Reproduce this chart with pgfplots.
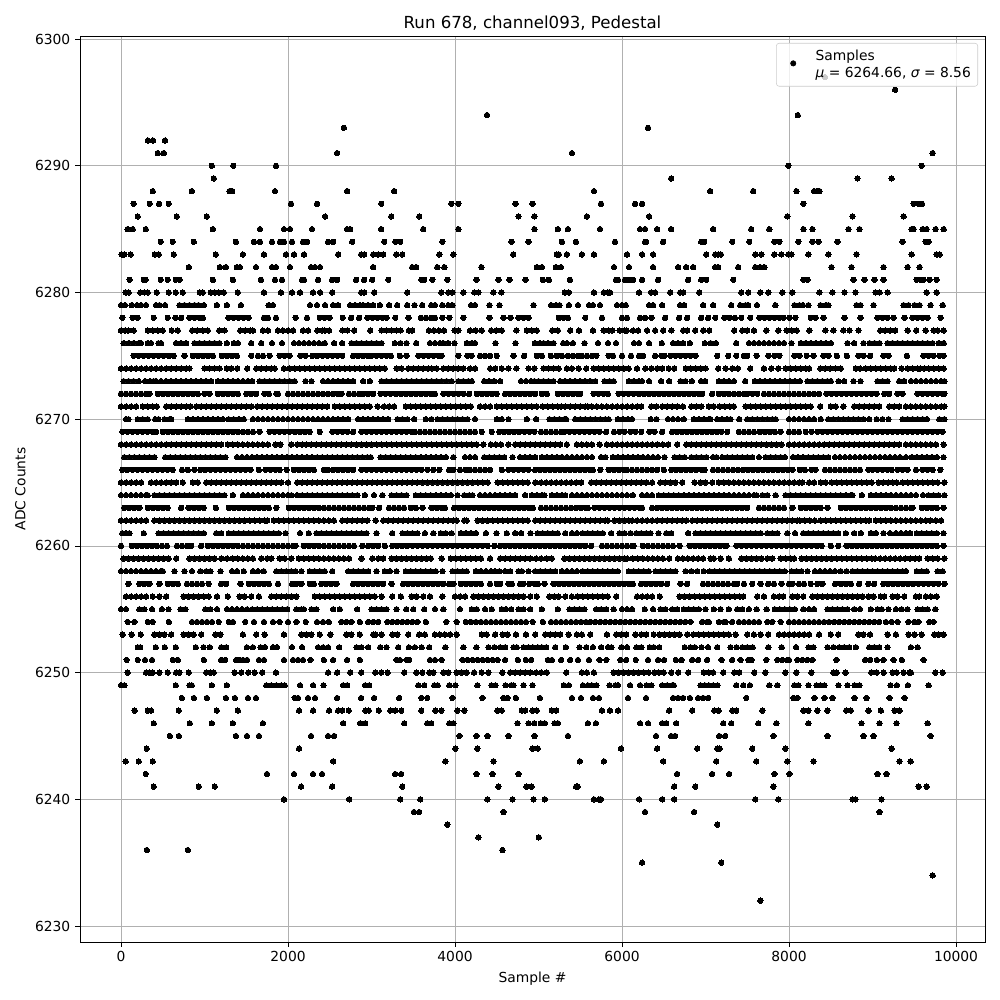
\documentclass[border=0pt]{standalone}
\usepackage{fontspec}
\setmainfont{DejaVu Sans}
\usepackage{pgfplots}
\pgfplotsset{compat=1.18}
\definecolor{gridgray}{HTML}{B0B0B0}
\gdef\allpts{}
\newcommand\R[2]{\gdef\rowpts{}\foreach \q in {#2}{\xdef\rowpts{\rowpts(\q,#1)}}\xdef\allpts{\allpts\rowpts}}
\R{6297}{8431}
\R{6296}{9270}
\R{6294}{4383,8104}
\R{6293}{2670,6311}
\R{6292}{323,383,527}
\R{6291}{440,512,2588,5400,9720}
\R{6290}{1088,1344,1856,7992,9588}
\R{6289}{1112,6588,8820,9228}
\R{6288}{380,848,1300,1332,1844,2708,3272,5664,7056,7572,8088,8300,8332,8364}
\R{6287}{152,344,456,572,2036,2348,3116,3956,4040,4724,4928,5748,6156,6240,8172,9492,9552,9592}
\R{6286}{200,668,1028,2444,3236,3572,4760,4950,5580,6324,7980,8760,9372}
\R{6285}{80,140,296,1100,1664,1952,2024,2288,2708,2744,3116,3620,4040,4950,5232,5352,5736,6216,6276,6420,6588,7092,7548,7764,8172,8280,8712,8844,9468,9492,9600,9648,9756,9852}
\R{6284}{476,620,872,1376,1592,1664,1808,1904,1952,2048,2180,2228,2480,2540,2768,3152,3284,3344,3848,4676,4880,5280,5448,5916,6276,6288,6492,6948,6984,7320,7524,7824,7884,8112,8280,8352,8580,9360,9636,9672}
\R{6283}{8,40,116,404,452,632,1136,1460,1712,1976,2072,2192,2600,2876,2912,3020,3080,3140,3296,3368,3812,3980,4696,5220,5244,5340,5520,5664,6060,6240,6372,7008,7116,7152,7184,7596,7668,7824,7908,7992,8028,8232,8472,8808,9468,9768,9804}
\R{6282}{812,1184,1256,1388,1424,1616,1808,1856,2024,2276,2324,2384,3020,3488,3536,3788,3872,4316,4980,5040,5208,5268,5904,6084,6372,6672,6768,6852,7116,7152,7392,7596,7656,7704,8508,8748,9132,9420,9564}
\R{6281}{104,272,296,476,560,656,704,1100,1340,1676,1844,1928,2168,2192,2360,2528,2588,2816,2912,3008,3200,3596,3632,3728,3908,4256,4520,4652,4844,5052,5124,5376,5928,5952,6036,6084,6132,6240,6432,6792,6948,7008,7332,8172,8220,8772,8904,9024,9132,9528,9576,9612,9684,9768}
\R{6280}{56,92,232,280,320,428,572,656,740,944,980,1076,1124,1172,1232,1400,1712,1916,2048,2144,2300,2384,2528,2876,2912,3032,3428,3836,3920,3968,4100,4232,4280,4460,4556,5316,5364,5664,5784,5832,5856,6204,6348,6396,6576,6696,6732,6924,7428,7512,7656,7752,7920,8040,8364,8520,8664,8796,9036,9084,9180,9648,9768}
\R{6279}{0,48,128,192,240,300,420,460,528,700,760,820,880,928,992,1148,1268,1436,1768,1820,2264,2348,2444,2540,2600,2744,2804,2864,2900,2960,3020,3100,3212,3308,3428,3516,3608,3716,3760,3848,3920,3968,4192,4240,4412,4532,4940,5152,5212,5252,5364,5472,5604,5652,5736,5940,6000,6044,6324,6372,6480,6696,6744,6972,7092,7308,7416,7480,7512,7616,7836,8064,8124,8164,8232,8376,8440,8472,8808,8856,9012,9372,9432,9504,9564,9696,9840}
\R{6278}{16,140,200,392,560,652,720,820,880,940,980,1288,1348,1408,1468,1528,1712,1760,1856,2092,2228,2380,2440,2500,2656,2756,2852,2952,3012,3072,3132,3180,3284,3444,3592,3652,3712,3760,3848,3932,4100,4412,4580,4664,4760,4820,4880,5244,5300,5352,5560,5760,6000,6060,6216,6276,6352,6516,6684,6780,6948,7032,7116,7224,7284,7352,7428,7536,7644,7704,7764,7824,7884,7932,8004,8076,8260,8320,8412,8664,8856,9060,9120,9180,9252,9384,9480,9540,9600,9660,9816}
\R{6277}{0,48,88,152,320,380,440,500,608,680,852,912,980,1040,1176,1240,1428,1488,1548,1580,1700,1760,1880,1940,2000,2060,2180,2240,2352,2412,2440,2492,2652,2712,2792,2984,3120,3180,3240,3300,3348,3448,3488,3688,3748,3808,3868,3996,4040,4180,4250,4320,4432,4492,4560,4736,4860,4920,4980,5164,5232,5380,5484,5652,5780,5840,5884,5972,6032,6056,6132,6192,6300,6396,6492,6592,6732,6780,6876,6972,7044,7344,7440,7500,7580,7728,7872,7972,8032,8092,8244,8436,8532,8652,8724,8832,9092,9152,9212,9272,9420,9524,9636,9732,9780,9852}
\R{6276}{32,92,152,212,240,320,360,448,480,660,720,780,880,940,1000,1060,1120,1180,1268,1352,1400,1560,1680,1808,1928,2072,2132,2192,2252,2312,2372,2440,2552,2648,2760,2820,2880,2940,3000,3060,3120,3280,3348,3420,3536,3700,3760,3820,3860,3920,3992,4140,4200,4240,4484,4724,4956,5016,5060,5116,5180,5296,5340,5412,5552,5712,5832,5928,6144,6204,6324,6476,6612,6672,6732,6812,6992,7060,7124,7368,7520,7580,7640,7700,7760,7820,7880,7940,8028,8140,8200,8260,8320,8380,8440,8500,8700,8780,8892,8964,9024,9084,9180,9240,9300,9360,9420,9480,9540,9600,9660,9720,9792,9852}
\R{6275}{152,212,272,332,392,452,512,572,632,760,860,920,980,1040,1100,1208,1268,1328,1388,1560,1640,1700,1780,1900,1960,2020,2150,2210,2290,2350,2410,2470,2530,2590,2650,2780,2840,2900,2960,3000,3060,3120,3180,3232,3340,3420,3560,3620,3680,3740,3800,3840,4040,4150,4200,4300,4360,4420,4500,4700,4828,4980,5040,5148,5220,5280,5352,5412,5472,5520,5580,5640,5692,5840,5892,6000,6108,6204,6252,6396,6472,6504,6580,6640,6700,6760,6820,6880,7140,7272,7368,7460,7500,7612,7752,7824,7884,8064,8124,8212,8292,8412,8472,8572,8692,8832,8892,8972,9132,9192,9412,9610,9670,9730,9800,9852}
\R{6274}{0,60,120,180,240,300,360,420,480,540,600,660,720,780,820,1000,1060,1120,1180,1268,1320,1392,1512,1620,1680,1740,1800,1840,1952,2020,2080,2140,2200,2260,2320,2380,2440,2500,2560,2620,2680,2740,2800,2860,2920,2980,3040,3100,3160,3300,3360,3440,3500,3560,3620,3680,3720,3780,3860,3920,3980,4040,4100,4180,4240,4420,4480,4560,4640,4736,4880,4950,5060,5120,5180,5240,5340,5400,5480,5572,5660,5720,5780,5840,5900,5960,6020,6080,6180,6280,6350,6420,6480,6560,6624,6764,6824,6884,6944,7000,7152,7240,7320,7388,7536,7700,7788,7872,7960,8020,8080,8140,8200,8240,8376,8436,8496,8556,8620,8800,8850,8920,8980,9040,9100,9160,9220,9260,9348,9420,9480,9540,9570,9620,9672,9732,9792,9852}
\R{6273}{32,92,152,212,290,350,390,420,480,540,600,660,720,780,840,900,960,1020,1080,1160,1220,1280,1340,1400,1460,1520,1570,1660,1720,1780,1840,1900,1960,2020,2080,2210,2280,2420,2480,2540,2600,2660,2720,2780,2900,2980,3120,3180,3240,3300,3360,3420,3480,3540,3600,3660,3720,3780,3840,3900,3960,4040,4100,4160,4200,4350,4410,4470,4540,4790,4850,4910,4950,5000,5060,5120,5180,5260,5320,5380,5440,5500,5560,5620,5680,5790,5850,5900,6080,6140,6200,6240,6324,6468,6564,6700,6760,6836,6948,6996,7160,7220,7280,7340,7476,7590,7650,7710,7770,7830,7890,7950,8010,8070,8130,8220,8280,8340,8400,8460,8500,8592,8660,8772,8856,9060,9120,9180,9320,9380,9460,9520,9580,9640,9700,9760,9820,9860}
\R{6272}{0,60,120,180,240,300,340,440,500,560,620,680,740,800,860,920,1000,1060,1160,1220,1280,1340,1400,1500,1560,1620,1720,1770,1860,1880,2000,2060,2120,2180,2240,2300,2360,2420,2480,2540,2600,2640,2730,2790,2850,2900,2960,3020,3110,3170,3230,3290,3350,3410,3470,3530,3590,3650,3710,3760,3860,3920,3980,4040,4100,4170,4260,4320,4380,4440,4500,4600,4660,4720,4780,4840,4900,4960,5040,5100,5230,5290,5350,5410,5470,5500,5660,5720,5780,5830,5960,6020,6080,6140,6200,6260,6320,6380,6440,6500,6560,6620,6680,6740,6800,6860,6920,6960,7080,7160,7220,7280,7340,7400,7460,7500,7560,7620,7700,7760,7820,7880,7940,8000,8060,8120,8180,8240,8300,8360,8450,8510,8570,8630,8690,8750,8810,8870,8930,8990,9050,9140,9200,9300,9360,9540,9600,9660,9720,9780,9840,9860}
\R{6271}{0,60,120,180,260,320,380,430,540,600,660,720,780,830,900,960,1020,1080,1140,1200,1260,1320,1380,1440,1500,1560,1630,1690,1750,1810,1870,1930,1990,2050,2110,2170,2230,2290,2350,2410,2470,2560,2620,2680,2740,2800,2860,2920,2980,3072,3150,3210,3270,3410,3470,3530,3590,3650,3710,3770,3830,3890,3950,4010,4070,4130,4190,4300,4360,4420,4500,4560,4620,4680,4740,4800,4860,4920,4980,5050,5110,5170,5230,5270,5320,5380,5440,5500,5560,5590,5640,5700,5760,5820,5880,5940,6000,6060,6120,6180,6230,6350,6410,6480,6540,6600,6660,6730,6830,6890,6950,7040,7100,7170,7230,7290,7340,7480,7540,7600,7660,7720,7780,7840,7900,7960,8020,8080,8140,8200,8260,8372,8500,8560,8650,8780,8840,8900,8960,9020,9080,9200,9260,9320,9400,9460,9520,9580,9640,9700,9760,9820,9860}
\R{6270}{60,90,200,260,320,410,450,520,580,600,800,860,920,980,1040,1100,1160,1220,1290,1350,1410,1470,1580,1640,1700,1760,1820,1880,1940,2000,2060,2120,2180,2240,2300,2360,2420,2480,2540,2600,2660,2720,2840,2900,2960,3020,3080,3140,3200,3310,3370,3430,3510,3650,3720,3790,3850,3910,3970,4030,4090,4150,4240,4500,4560,4640,4860,4972,5130,5190,5250,5310,5330,5440,5500,5560,5620,5680,5740,5800,5840,5950,6010,6070,6120,6344,6412,6550,6610,6670,6740,6860,6920,6980,7040,7060,7140,7200,7260,7300,7404,7500,7560,7620,7680,7740,7800,7840,8000,8060,8120,8180,8240,8300,8380,8470,8530,8590,8650,8710,8770,8830,8890,8960,9050,9120,9192,9360,9420,9480,9540,9600,9650,9800,9860}
\R{6269}{16,76,136,196,256,316,376,420,500,560,620,680,740,800,860,920,980,1040,1100,1160,1220,1280,1340,1400,1460,1520,1580,1660,1780,1840,1900,1960,2020,2080,2140,2200,2260,2380,2532,2592,2652,2712,2780,2880,2940,3000,3060,3120,3180,3240,3300,3360,3420,3480,3520,3580,3640,3700,3760,3820,3880,3940,4000,4060,4120,4180,4240,4320,4440,4530,4590,4650,4710,4770,4830,4890,4950,5030,5090,5150,5210,5270,5310,5370,5430,5490,5550,5610,5670,5730,5810,5904,5970,6030,6100,6160,6230,6330,6390,6480,6600,6660,6720,6780,6840,6900,6960,7020,7080,7140,7190,7260,7400,7460,7520,7580,7650,7710,7770,7830,7900,8000,8060,8120,8200,8270,8340,8400,8460,8520,8580,8640,8700,8760,8820,8880,8940,9000,9060,9120,9180,9240,9300,9360,9420,9480,9540,9600,9660,9720,9780,9840}
\R{6268}{0,60,120,180,240,300,360,420,480,540,600,660,720,780,840,900,960,1020,1080,1140,1200,1280,1340,1400,1460,1520,1580,1640,1700,1760,1850,1910,2040,2110,2170,2220,2280,2340,2400,2460,2520,2580,2640,2700,2760,2820,2880,2940,3000,3060,3120,3180,3240,3300,3360,3420,3480,3540,3600,3660,3720,3780,3840,3900,3960,4020,4080,4140,4200,4260,4340,4430,4490,4550,4640,4720,4780,4840,4900,4960,5020,5080,5140,5200,5260,5340,5460,5520,5580,5640,5732,5820,5880,5940,6000,6060,6120,6180,6240,6300,6360,6420,6490,6552,6660,6770,6830,6890,6950,7010,7070,7130,7190,7250,7310,7370,7430,7490,7550,7610,7670,7730,7790,7850,7910,8000,8060,8120,8180,8240,8300,8360,8420,8480,8540,8600,8660,8720,8780,8840,8900,8960,9020,9080,9140,9200,9260,9320,9400,9460,9520,9580,9640,9700,9760,9850}
\R{6267}{40,100,160,220,280,340,400,530,590,650,710,770,830,890,950,1010,1070,1130,1190,1250,1390,1450,1510,1570,1630,1690,1750,1810,1870,1930,1990,2050,2110,2170,2230,2290,2350,2410,2470,2530,2590,2650,2710,2770,2830,2890,2950,2990,3110,3170,3230,3290,3350,3410,3470,3530,3590,3650,3710,3770,3830,3890,3980,4120,4180,4240,4350,4410,4470,4530,4590,4690,4780,4840,4900,4960,5040,5100,5160,5220,5280,5340,5400,5460,5520,5580,5640,5750,5800,5890,5950,6010,6070,6130,6190,6250,6310,6370,6430,6510,6630,6690,6750,6830,6890,6950,7010,7090,7130,7200,7260,7320,7380,7440,7500,7560,7640,7720,7780,7840,7900,7950,8050,8110,8170,8230,8290,8350,8410,8470,8550,8610,8670,8730,8790,8850,8910,8970,9030,9090,9150,9210,9270,9330,9400,9470,9530,9590,9650,9710,9770,9850}
\R{6266}{16,76,136,196,256,316,376,436,496,556,620,730,800,880,950,1010,1070,1130,1190,1250,1310,1370,1430,1490,1550,1650,1730,1790,1850,1900,1984,2070,2130,2190,2250,2310,2430,2480,2540,2600,2660,2720,2780,2880,2940,3000,3060,3120,3180,3240,3300,3360,3420,3480,3540,3600,3670,3740,3812,3930,3980,4060,4130,4180,4240,4300,4360,4420,4560,4640,4700,4760,4820,4880,4960,5020,5080,5140,5200,5260,5320,5380,5440,5500,5560,5610,5650,5740,5840,5900,5960,6020,6060,6120,6180,6240,6300,6360,6420,6500,6590,6650,6710,6770,6830,6890,6950,6990,7090,7150,7210,7270,7330,7390,7450,7510,7570,7630,7690,7750,7810,7870,7930,7990,8040,8130,8190,8270,8316,8430,8490,8550,8610,8670,8730,8790,8850,8950,9000,9060,9120,9180,9230,9300,9360,9420,9520,9600,9660,9720,9812}
\R{6265}{0,60,120,180,240,360,420,480,540,600,660,740,860,920,1020,1080,1140,1200,1260,1320,1380,1440,1500,1560,1620,1680,1740,1800,1860,1920,2000,2110,2170,2230,2290,2350,2410,2470,2530,2590,2650,2710,2770,2830,2890,2950,3010,3070,3130,3190,3250,3310,3370,3430,3490,3550,3610,3670,3730,3790,3850,3910,3970,4030,4090,4150,4210,4270,4330,4390,4510,4570,4630,4690,4750,4810,4870,4960,5030,5090,5150,5210,5270,5330,5390,5450,5510,5630,5690,5750,5810,5870,5930,5990,6050,6110,6170,6230,6290,6360,6460,6520,6580,6640,6720,6870,6940,7000,7080,7160,7220,7280,7340,7400,7460,7520,7580,7640,7700,7760,7820,7880,7940,8000,8060,8120,8160,8240,8300,8380,8440,8510,8570,8630,8690,8750,8810,8870,8930,8990,9072,9130,9190,9240,9292,9360,9420,9480,9540,9600,9660,9720,9780,9860}
\R{6264}{0,60,120,180,240,300,320,400,460,520,580,640,700,760,820,880,940,1000,1060,1120,1180,1240,1340,1460,1520,1580,1640,1700,1760,1820,1880,1940,2000,2040,2110,2170,2230,2290,2350,2410,2470,2530,2590,2650,2710,2770,2830,2920,3030,3130,3240,3300,3360,3420,3530,3590,3650,3710,3770,3830,3890,3950,4030,4110,4170,4210,4300,4360,4420,4480,4540,4600,4660,4720,4840,4920,4980,5040,5070,5160,5220,5280,5320,5400,5460,5520,5580,5640,5700,5760,5820,5880,5940,6000,6060,6130,6240,6300,6360,6440,6500,6560,6620,6680,6740,6800,6860,6920,6980,7040,7100,7160,7220,7280,7340,7400,7460,7520,7580,7610,7680,7740,7840,7960,8020,8080,8140,8200,8260,8320,8380,8440,8500,8560,8620,8680,8740,8760,8872,8980,9040,9100,9160,9220,9280,9340,9400,9460,9520,9604,9670,9730,9790,9860}
\R{6263}{40,100,160,220,320,380,440,500,560,720,810,870,930,990,1136,1290,1350,1410,1470,1530,1590,1650,1710,1770,1860,2010,2070,2130,2190,2250,2310,2370,2430,2490,2550,2610,2670,2730,2790,2850,2910,2970,3010,3092,3210,3270,3330,3390,3470,3530,3610,3720,3780,3840,3880,3990,4050,4110,4170,4230,4290,4350,4410,4470,4530,4590,4650,4710,4770,4830,4890,4932,5030,5090,5150,5210,5270,5330,5390,5450,5510,5570,5590,5670,5730,5790,5850,5910,5970,6030,6090,6150,6210,6240,6360,6420,6480,6540,6600,6660,6720,6780,6840,6900,6960,7020,7080,7140,7200,7260,7320,7380,7440,7500,7640,7700,7760,7820,7880,7940,8040,8140,8200,8260,8320,8380,8460,8620,8680,8740,8800,8860,8920,8980,9040,9100,9160,9220,9280,9340,9400,9460,9480,9590,9650,9710,9770,9850}
\R{6262}{0,60,120,180,240,300,400,460,520,580,640,700,760,820,880,940,1000,1060,1120,1180,1240,1300,1360,1420,1480,1540,1600,1660,1720,1750,1830,1890,1950,2010,2070,2130,2190,2250,2310,2370,2430,2490,2550,2650,2710,2770,2830,2890,2950,3050,3140,3200,3260,3320,3380,3440,3500,3560,3620,3680,3740,3800,3860,3920,3980,4020,4110,4140,4270,4330,4390,4450,4510,4570,4630,4690,4750,4810,4870,4960,5020,5080,5140,5200,5260,5320,5380,5440,5500,5560,5620,5680,5740,5800,5830,5910,5970,6030,6080,6120,6180,6240,6300,6360,6420,6480,6540,6600,6660,6720,6770,6840,6900,6960,7020,7080,7140,7200,7260,7320,7380,7440,7500,7560,7620,7680,7740,7800,7860,7920,7980,8040,8100,8130,8190,8250,8310,8380,8440,8500,8560,8620,8680,8740,8800,8860,8920,8960,9040,9100,9160,9220,9280,9340,9400,9460,9520,9580,9640,9690,9760,9820}
\R{6261}{16,60,100,272,450,510,570,630,690,750,810,870,930,992,1140,1200,1290,1350,1410,1470,1530,1590,1650,1710,1770,1830,1890,1970,2144,2248,2340,2400,2460,2520,2580,2640,2700,2760,2820,2880,2940,3060,3248,3370,3430,3490,3550,3640,3740,3830,3890,3960,4070,4130,4190,4250,4370,4496,4620,4720,4792,4904,4990,5050,5110,5170,5230,5320,5400,5460,5530,5590,5650,5710,5770,5870,5970,6030,6100,6170,6230,6290,6340,6436,6530,6590,6792,6880,6940,7000,7060,7120,7180,7240,7300,7360,7420,7480,7540,7600,7660,7740,7800,7860,7980,8072,8170,8230,8290,8350,8410,8470,8530,8590,8680,8780,8860,8980,9040,9130,9210,9280,9340,9400,9450,9530,9590,9650,9710,9770,9850}
\R{6260}{0,130,190,250,310,370,430,490,550,670,730,790,840,960,1040,1100,1160,1220,1280,1340,1400,1460,1520,1580,1640,1700,1760,1820,1880,1940,2000,2060,2090,2190,2250,2310,2370,2430,2490,2550,2610,2670,2730,2790,2890,2960,3020,3080,3160,3250,3310,3370,3430,3490,3550,3610,3670,3730,3790,3850,3910,3970,4030,4090,4150,4210,4270,4330,4390,4470,4540,4600,4660,4720,4780,4840,4900,4960,5020,5080,5140,5200,5260,5320,5380,5440,5500,5560,5630,5760,5820,5880,5940,6000,6060,6120,6140,6250,6310,6370,6430,6490,6550,6610,6690,6810,6870,6930,6990,7050,7110,7170,7230,7250,7370,7430,7490,7550,7610,7670,7730,7790,7850,7910,7970,8030,8090,8150,8210,8270,8330,8390,8500,8590,8690,8750,8810,8870,8930,8990,9050,9110,9170,9230,9290,9350,9410,9470,9530,9590,9650,9710,9770,9850}
\R{6259}{30,90,150,210,270,330,390,450,510,570,660,820,880,940,1000,1060,1120,1200,1270,1340,1400,1460,1520,1580,1680,1750,1800,1900,1960,2040,2130,2190,2250,2310,2370,2430,2490,2550,2610,2670,2730,2880,3010,3080,3140,3240,3300,3360,3420,3480,3540,3600,3660,3710,3840,3950,4010,4070,4130,4190,4250,4310,4420,4540,4600,4660,4720,4780,4840,4900,4970,5030,5100,5160,5310,5370,5430,5490,5550,5610,5670,5730,5790,5850,5910,5970,6030,6060,6130,6190,6250,6310,6370,6430,6490,6564,6670,6730,6790,6850,6910,6970,7060,7100,7180,7280,7430,7490,7550,7610,7670,7740,7800,7900,7960,8020,8060,8150,8210,8270,8330,8390,8450,8510,8570,8630,8690,8750,8810,8870,8930,8990,9030,9090,9150,9210,9270,9330,9390,9450,9510,9560,9660,9720,9780,9860}
\R{6258}{0,60,120,180,240,300,360,420,480,500,640,760,850,950,1020,1070,1192,1330,1390,1470,1580,1640,1710,1860,1920,1980,2040,2090,2160,2260,2320,2380,2440,2530,2720,2780,2840,2900,2960,3060,3160,3220,3300,3410,3470,3530,3590,3650,3710,3770,3850,3970,4030,4090,4140,4250,4310,4370,4430,4480,4530,4600,4660,4760,4800,4880,4960,5020,5080,5140,5200,5280,5340,5400,5460,5530,5590,5650,5710,5770,5830,5890,5950,6080,6140,6200,6260,6320,6400,6460,6520,6580,6640,6760,6828,6900,6980,7050,7110,7170,7230,7290,7350,7410,7470,7530,7590,7650,7710,7770,7830,7890,7950,8030,8090,8150,8220,8310,8370,8430,8490,8550,8620,8690,8760,8820,8880,8940,9000,9060,9120,9180,9240,9300,9360,9400,9530,9590,9650,9780,9840}
\R{6257}{88,220,280,340,460,560,620,680,790,850,910,970,1050,1200,1260,1432,1530,1590,1650,1710,1770,1880,2050,2100,2160,2260,2310,2400,2460,2520,2580,2780,2840,2900,2960,3020,3080,3140,3240,3380,3440,3500,3560,3620,3680,3740,3800,3860,3930,3980,4070,4130,4190,4250,4310,4420,4500,4540,4640,4680,4780,4820,4890,4952,4992,5072,5180,5240,5300,5360,5420,5480,5540,5600,5660,5720,5780,5840,5900,5960,6020,6080,6130,6230,6290,6350,6410,6470,6540,6700,6780,6970,7030,7090,7150,7210,7270,7340,7380,7460,7560,7660,7750,7820,7910,8000,8040,8120,8180,8260,8340,8400,8552,8620,8680,8740,8840,8950,9020,9130,9190,9250,9310,9370,9430,9490,9550,9610,9670,9730,9790,9860}
\R{6256}{60,120,180,240,300,380,460,540,750,810,870,930,990,1050,1150,1280,1420,1480,1560,1652,1800,1860,1920,1980,2040,2100,2320,2380,2440,2500,2560,2620,2680,2740,2800,2860,2920,2980,3040,3120,3248,3352,3480,3540,3620,3700,3848,4000,4060,4120,4220,4280,4340,4400,4460,4520,4580,4640,4700,4760,4820,4900,4980,5130,5190,5240,5320,5400,5470,5530,5590,5650,5710,5770,5830,5930,6180,6240,6300,6360,6452,6690,6750,6810,6870,6930,6990,7050,7110,7170,7230,7290,7350,7410,7450,7620,7700,7820,7880,7930,8040,8100,8170,8280,8340,8400,8460,8520,8580,8640,8700,8760,8820,8880,8950,9012,9100,9140,9240,9300,9380,9520,9560,9640,9700,9770}
\R{6255}{0,60,220,280,372,490,570,712,772,1010,1070,1150,1270,1330,1390,1450,1510,1570,1630,1690,1750,1810,1870,1930,1990,2100,2160,2190,2280,2340,2540,2620,2828,3000,3060,3120,3180,3300,3416,3500,3632,3760,3860,4060,4200,4260,4360,4440,4560,4610,4672,4760,4820,4900,5040,5232,5370,5430,5490,5550,5690,5750,5810,5900,6000,6060,6120,6272,6372,6460,6520,6600,6660,6740,6800,6860,6920,7000,7100,7180,7280,7380,7440,7520,7612,7732,7830,7890,7950,8010,8070,8170,8240,8300,8460,8520,8580,8640,8700,8780,8850,8980,9060,9110,9190,9280,9350,9420,9540,9600,9660,9752}
\R{6254}{80,160,320,380,572,850,910,970,1030,1090,1170,1290,1340,1488,1592,1712,1820,1900,2000,2100,2212,2348,2420,2488,2640,2700,2760,2860,2960,3020,3080,3190,3250,3310,3370,3430,3490,3550,3650,3896,4020,4130,4190,4250,4310,4370,4430,4490,4550,4610,4670,4730,4790,4850,4930,5052,5150,5210,5270,5330,5390,5450,5510,5570,5620,5680,5740,5800,5860,5920,5980,6040,6100,6160,6220,6280,6340,6400,6460,6520,6580,6640,6700,6760,6820,6960,7020,7040,7160,7220,7240,7320,7400,7460,7520,7580,7640,7740,7800,7900,8000,8060,8120,8180,8240,8300,8360,8420,8480,8540,8600,8660,8720,8780,8840,8900,8960,9020,9080,9160,9230,9300,9430,9500,9550,9680,9730}
\R{6253}{20,128,236,400,460,520,600,750,810,870,960,1130,1190,1460,1620,1720,1952,2160,2220,2280,2380,2508,2700,2760,2860,3020,3050,3120,3250,3310,3440,3570,3640,3760,3820,3880,3940,4020,4320,4380,4480,4570,4630,4730,4850,4960,5080,5140,5200,5260,5360,5460,5520,5620,5820,5930,5990,6050,6160,6230,6290,6380,6450,6510,6570,6630,6690,6780,6852,6920,6980,7040,7100,7160,7220,7280,7360,7500,7580,7660,7750,7880,7940,8000,8060,8120,8180,8240,8360,8500,8590,8830,8890,8970,9180,9280,9432,9504,9588,9740,9790,9852}
\R{6252}{200,230,416,524,656,896,988,1064,1200,1260,1508,1580,1672,1724,1820,1868,2048,2168,2360,2420,2480,2612,2820,2880,2960,3104,3180,3320,3448,3520,3600,3692,3884,4100,4256,4400,4470,4540,4600,4700,4740,4820,4880,4932,4992,5040,5092,5200,5328,5492,5572,5652,5750,5832,5872,5992,6060,6172,6232,6332,6380,6444,6752,6820,6872,6952,7030,7140,7300,7370,7440,7500,7564,7752,7912,8084,8232,8292,8460,8530,8600,8660,8720,8800,8960,9020,9080,9180,9460,9540}
\R{6251}{68,200,288,372,620,680,992,1200,1248,1380,1420,1460,1510,1652,1712,1952,2060,2120,2180,2268,2428,2540,2708,2860,3300,3340,3420,3452,3700,3760,3840,4090,4150,4210,4270,4330,4390,4450,4510,4600,4752,4848,4912,5112,5160,5272,5380,5472,5604,5732,5812,5980,6050,6164,6312,6432,6504,6644,6712,6840,6912,7020,7192,7320,7420,7512,7552,7728,7860,7920,7980,8000,8100,8160,8220,8280,8568,8912,8972,9052,9130,9252,9350,9612}
\R{6250}{80,300,340,380,460,560,660,700,812,1020,1070,1112,1360,1440,1524,1600,1690,1856,2480,2588,2744,2876,3044,3116,3192,3392,3536,3608,3692,3740,3860,3920,4020,4080,4140,4228,4320,4400,4568,4660,4720,4780,4840,4900,4970,5030,5100,5332,5520,5580,5664,5900,5960,6020,6080,6140,6200,6260,6320,6390,6440,6500,6590,6672,6792,6980,7040,7090,7212,7344,7404,7584,7716,7956,8088,8268,8530,8570,8676,8984,9052,9132,9240,9290,9372,9440,9460,9752,9840}
\R{6249}{0,40,656,820,848,1088,1268,1740,1800,1860,1920,1960,2144,2300,2424,2660,2708,2924,2972,3560,3632,3752,3792,3932,4004,4268,4436,4484,4604,4672,4700,4820,4928,5304,5364,5532,5592,5640,5692,5852,5920,5952,6096,6216,6292,6352,6480,6540,6600,6620,6940,6992,7040,7092,7144,7368,7452,7532,7764,7860,8064,8112,8232,8328,8376,8424,8592,8700,8784,8844,9216,9292,9424,9672}
\R{6248}{728,872,1028,1256,1364,1520,1616,2080,2120,2240,2324,2588,2876,3032,3332,3596,3668,3968,4328,4580,4630,4728,5016,5400,5508,5652,5724,6072,6288,6612,6672,6732,6812,6912,6972,7032,7488,8052,8100,8304,8424,8520,8784,8928,9204,9384}
\R{6247}{164,320,360,692,1148,1400,2132,2300,2492,2600,2648,2728,2928,2968,3088,3224,3284,3356,3596,3764,3836,4028,4112,4508,4560,4800,4840,4928,4980,5160,5212,5760,5856,5952,6564,6840,7104,7156,7320,7368,7680,8172,8232,8340,8460,8684,8740,8952,9100,9264,9324}
\R{6246}{392,824,1088,1340,1700,2660,2864,2924,3392,3668,3716,3932,3980,4748,4880,4948,5028,5076,5192,5232,5592,5688,6216,6312,6480,6528,6648,7212,7308,7632,7848,8232,8868,9084,9288,9660}
\R{6245}{584,692,1376,1508,1652,2276,2480,2552,4052,4256,4388,4640,4952,5352,6408,6588,6636,7164,7236,7812,8460,8892,9012,9696}
\R{6244}{308,2132,4004,4268,4928,4992,5988,6420,6900,7140,7170,7560,7956,9228}
\R{6243}{56,212,380,2540,3884,4460,5496,5784,6492,7128,7608,7980,8292,9324,9456}
\R{6242}{296,1748,2072,2300,2408,3284,3356,4256,4448,4760,6660,7080,7284,7824,8004,9060,9168}
\R{6241}{392,932,1124,2156,2528,3368,4520,4856,4916,5450,5470,6624,6876,7812,9552,9648}
\R{6240}{1952,2732,3344,3584,4388,4688,4940,5076,5664,5724,5748,6204,6480,6624,7596,7872,8760,8796,9108}
\R{6239}{3508,3572,4580,6276,6864,9084}
\R{6238}{3908,7140}
\R{6237}{4280,5004}
\R{6236}{308,800,4568}
\R{6235}{6240,7188}
\R{6234}{9720}
\R{6232}{7656}
\begin{document}
\begin{tikzpicture}
\path[use as bounding box] (-0.8in,-0.58in) rectangle (9.2in,9.42in);
\begin{axis}[
  at={(0,0)},anchor=south west,
  scale only axis,width=9.05in,height=9.06in,
  xmin=-491,xmax=10347,ymin=6228.74,ymax=6300.24,
  xtick={0,2000,4000,6000,8000,10000},
  ytick={6230,6240,6250,6260,6270,6280,6290,6300},
  scaled x ticks=false,scaled y ticks=false,
  /pgf/number format/assume math mode=true,
  /pgf/number format/.cd,1000 sep={},fixed,/pgfplots/.cd,
  tick align=outside,tick pos=left,
  major tick length=3.5pt,
  every tick/.style={black,line width=0.55pt},
  axis line style={line width=0.55pt},
  grid=major,
  grid style={gridgray,line width=0.55pt},
  tick label style={font=\fontsize{10}{12}\selectfont},
  label style={font=\fontsize{10}{12}\selectfont},
  title style={font=\fontsize{12}{14}\selectfont,yshift=-5.8pt},
  title={Run 678, channel093, Pedestal},
  xlabel={Sample \#},ylabel={ADC Counts},
  legend style={at={(0.9923,0.9923)},anchor=north east,draw=black!20,rounded corners=2pt,
    fill=white,fill opacity=0.8,text opacity=1,
    font=\fontsize{10}{12}\selectfont,cells={align=left},inner xsep=3pt,inner ysep=3pt},
  legend cell align=left,
  legend image code/.code={\path (0,0) (23pt,0);\fill[black,fill opacity=1] (9pt,0.1em) circle (1.95pt);},
]
\edef\tmpplot{\noexpand\addplot[only marks,mark=*,mark size=1.95pt,mark options={fill=black,draw=black,line width=0pt}] coordinates {\allpts};}
\tmpplot
\addlegendentry{Samples\\{\itshape μ} = 6264.66, {\itshape σ} = 8.56}
\end{axis}
\end{tikzpicture}
\end{document}
